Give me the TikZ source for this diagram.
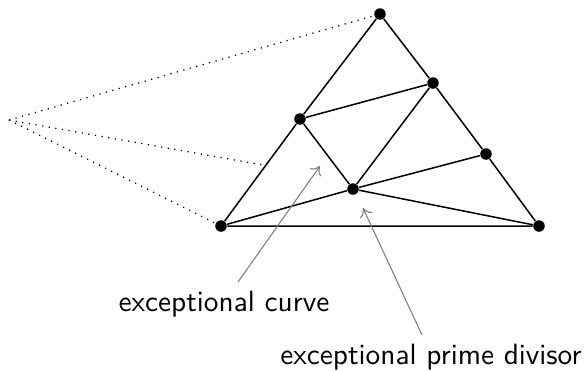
\documentclass[tikz,border=0pt]{standalone}
\usetikzlibrary{arrows.meta}
\begin{document}
\begin{tikzpicture}[x=0.365pt,y=-0.365pt,
  vtx/.style={circle,fill=black,inner sep=0pt,minimum size=4.2pt},
  edge/.style={line width=0.55pt},
  proj/.style={dotted,line width=0.45pt},
  pointer/.style={gray,line width=0.4pt,-{To[length=3pt,width=5pt]}},
  lbl/.style={font=\sffamily\fontsize{10.7}{13}\selectfont,inner sep=0pt}]
\useasboundingbox (0,0) rectangle (584,370);
\node[vtx] (T) at (380,14) {};
\node[vtx] (L) at (221,226) {};
\node[vtx] (R) at (539,226) {};
\node[vtx] (UR) at (433,83) {};
\node[vtx] (LM) at (300,119) {};
\node[vtx] (RR) at (486,154) {};
\node[vtx] (C) at (353,189) {};
\coordinate (A) at (9,120);
\coordinate (P) at (263,165);
\coordinate (EC) at (320,166);
\coordinate (EP) at (363,208);
\draw[edge] (T) -- (UR) -- (RR) -- (R) -- (L) -- (LM) -- (T);
\draw[edge] (LM) -- (UR);
\draw[edge] (LM) -- (C);
\draw[edge] (UR) -- (C);
\draw[edge] (L) -- (C) -- (RR);
\draw[edge] (C) -- (R);
\draw[proj] (A) -- (T);
\draw[proj] (A) -- (P);
\draw[proj] (A) -- (L);
\node[lbl] (curve) at (224,304) {exceptional curve};
\node[lbl] (prime) at (431,357) {exceptional prime divisor};
\draw[pointer] (238,282) -- (EC);
\draw[pointer] (422,335) -- (EP);
\end{tikzpicture}
\end{document}
